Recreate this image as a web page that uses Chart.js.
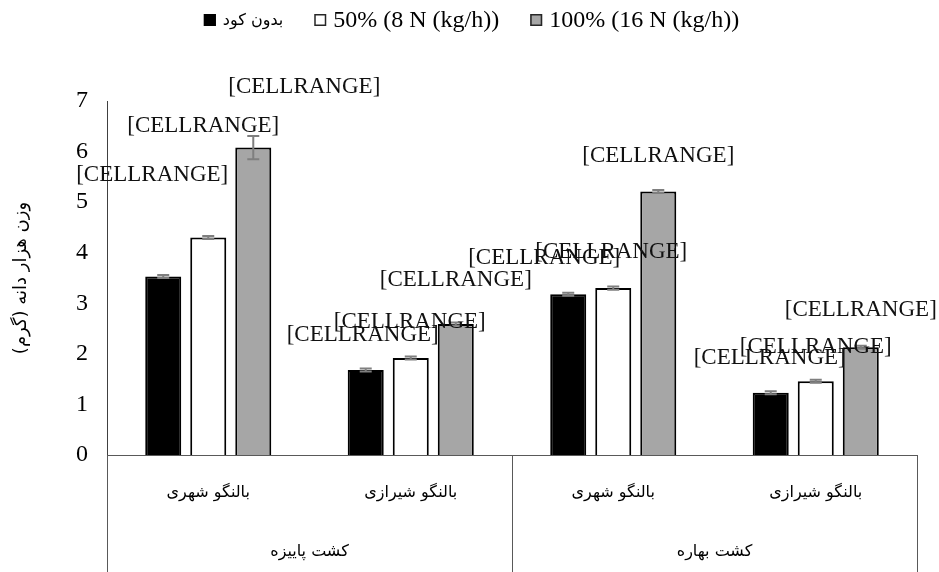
<!DOCTYPE html>
<html>
<head>
<meta charset="utf-8">
<script src="https://cdn.jsdelivr.net/npm/chart.js@4.4.0/dist/chart.umd.min.js"></script>
<style>
html,body{margin:0;padding:0;background:#fff;}
</style>
</head>
<body>
<canvas id="barChart" width="939" height="572"></canvas>
<script>
// data
const cropLabels = ["بالنگو شهری", "بالنگو شیرازی", "بالنگو شهری", "بالنگو شیرازی"];
const seasonLabels = ["کشت پاییزه", "کشت بهاره"];
const seriesNames = ["بدون کود", "50% (8 N (kg/h))", "100% (16 N (kg/h))"];
const noFertilizer = [3.53, 1.68, 3.18, 1.23];
const halfN = [4.30, 1.92, 3.30, 1.46];
const fullN = [6.08, 2.59, 5.21, 2.13];
const errNo = [0.03, 0.03, 0.03, 0.03];
const errHalf = [0.03, 0.03, 0.03, 0.03];
const errFull = [0.23, 0.03, 0.03, 0.03];
const yMin = 0, yMax = 7, yStep = 1;
const yTitle = "وزن هزار دانه (گرم)";
const cellText = "[CELLRANGE]";

// label placement relative to bar top (px)
const labelShift = [
    [[-11, -102], [-3, -35], [-24, -36], [-1, -35]],
    [[-5, -112], [-1, -36], [-2, -36], [0, -34]],
    [[51, -61], [0, -44], [0, -36], [0, -37]]
];

const serif = '"Liberation Serif", "Times New Roman", serif';
const persian = '"DejaVu Sans", sans-serif';

function fontFor(txt, size){
    if (/[\u0600-\u06FF]/.test(txt)) return "16px " + persian;
    return size + "px " + serif;
}

const extras = {
    id: "extras",
    afterDatasetsDraw(chart){
        const ctx = chart.ctx;
        const y = chart.scales.y;
        chart.data.datasets.forEach((ds, i) => {
            const meta = chart.getDatasetMeta(i);
            meta.data.forEach((bar, j) => {
                const v = ds.data[j], e = ds.errors[j];
                const top = y.getPixelForValue(v + e);
                const bot = y.getPixelForValue(v - e);
                ctx.save();
                ctx.strokeStyle = "#7f7f7f";
                ctx.lineWidth = 2;
                ctx.beginPath();
                ctx.moveTo(bar.x, top); ctx.lineTo(bar.x, bot);
                ctx.moveTo(bar.x - 6, top); ctx.lineTo(bar.x + 6, top);
                ctx.moveTo(bar.x - 6, bot); ctx.lineTo(bar.x + 6, bot);
                ctx.stroke();
                ctx.restore();
            });
        });
        chart.data.datasets.forEach((ds, i) => {
            const meta = chart.getDatasetMeta(i);
            meta.data.forEach((bar, j) => {
                const s = labelShift[i][j];
                ctx.save();
                ctx.font = "23px " + serif;
                ctx.fillStyle = "#111";
                ctx.textAlign = "center";
                ctx.textBaseline = "middle";
                ctx.fillText(cellText, bar.x + s[0], bar.y + s[1]);
                ctx.restore();
            });
        });
    },
    afterDraw(chart){
        const ctx = chart.ctx;
        const area = chart.chartArea;
        const x = chart.scales.x;
        const mid = (x.getPixelForValue(1) + x.getPixelForValue(2)) / 2;
        ctx.save();
        ctx.strokeStyle = "#595959";
        ctx.lineWidth = 1;
        [area.left, mid, area.right].forEach(px => {
            const p = Math.round(px) + 0.5;
            ctx.beginPath();
            ctx.moveTo(p, area.bottom);
            ctx.lineTo(p, chart.height);
            ctx.stroke();
        });
        ctx.fillStyle = "#000";
        ctx.textAlign = "center";
        ctx.textBaseline = "middle";
        ctx.font = "16px " + persian;
        seasonLabels.forEach((t, g) => {
            const cx = (x.getPixelForValue(g * 2) + x.getPixelForValue(g * 2 + 1)) / 2;
            ctx.fillText(t, cx, 552);
        });

        // legend
        const items = chart.data.datasets.map(ds => ({
            text: ds.label, fill: ds.backgroundColor, stroke: ds.legendBorder
        }));
        const box = 12, gapText = 7, gapItem = 31;
        const widths = items.map(it => {
            ctx.font = fontFor(it.text, 24);
            return box + gapText + ctx.measureText(it.text).width;
        });
        const total = widths.reduce((a, b) => a + b, 0) + gapItem * (items.length - 1);
        let lx = (chart.width - total) / 2 + 2;
        const ly = 20;
        items.forEach((it, k) => {
            ctx.fillStyle = it.fill;
            ctx.fillRect(lx, ly - box / 2, box, box);
            ctx.strokeStyle = it.stroke;
            ctx.lineWidth = 1.5;
            ctx.strokeRect(lx + 0.75, ly - box / 2 + 0.75, box - 1.5, box - 1.5);
            ctx.fillStyle = "#000";
            ctx.textAlign = "left";
            ctx.font = fontFor(it.text, 24);
            ctx.fillText(it.text, lx + box + gapText, ly + 1);
            lx += widths[k] + gapItem;
        });
        ctx.restore();
    }
};

new Chart(document.getElementById("barChart"), {
    type: "bar",
    data: {
        labels: cropLabels,
        datasets: [
            {
                label: seriesNames[0],
                data: noFertilizer,
                errors: errNo,
                backgroundColor: "#000000",
                borderColor: "#000000",
                legendBorder: "#000000",
                borderWidth: 2
            },
            {
                label: seriesNames[1],
                data: halfN,
                errors: errHalf,
                backgroundColor: "#ffffff",
                borderColor: "#000000",
                legendBorder: "#262626",
                borderWidth: 2
            },
            {
                label: seriesNames[2],
                data: fullN,
                errors: errFull,
                backgroundColor: "#a6a6a6",
                borderColor: "#000000",
                legendBorder: "#262626",
                borderWidth: 2
            }
        ]
    },
    options: {
        responsive: false,
        animation: false,
        layout: { padding: { top: 101, right: 22, left: 0, bottom: 0 } },
        datasets: { bar: { barPercentage: 0.8, categoryPercentage: 0.667 } },
        plugins: {
            legend: { display: false },
            tooltip: { enabled: false }
        },
        scales: {
            x: {
                grid: { display: false, drawTicks: false },
                border: { color: "#595959", width: 1 },
                ticks: {
                    color: "#000",
                    font: { family: persian, size: 16 },
                    padding: 28,
                    maxRotation: 0,
                    autoSkip: false
                },
                afterFit: s => { s.height = 117; }
            },
            y: {
                min: yMin,
                max: yMax,
                grid: { display: false, drawTicks: false },
                border: { color: "#404040", width: 1 },
                ticks: {
                    stepSize: yStep,
                    color: "#000",
                    font: { family: serif, size: 24 },
                    padding: 19
                },
                title: {
                    display: true,
                    text: yTitle,
                    color: "#000",
                    font: { family: persian, size: 18 },
                    padding: { top: 11, bottom: 0 }
                },
                afterFit: s => { s.width = 107; }
            }
        }
    },
    plugins: [extras]
});
</script>
</body>
</html>
